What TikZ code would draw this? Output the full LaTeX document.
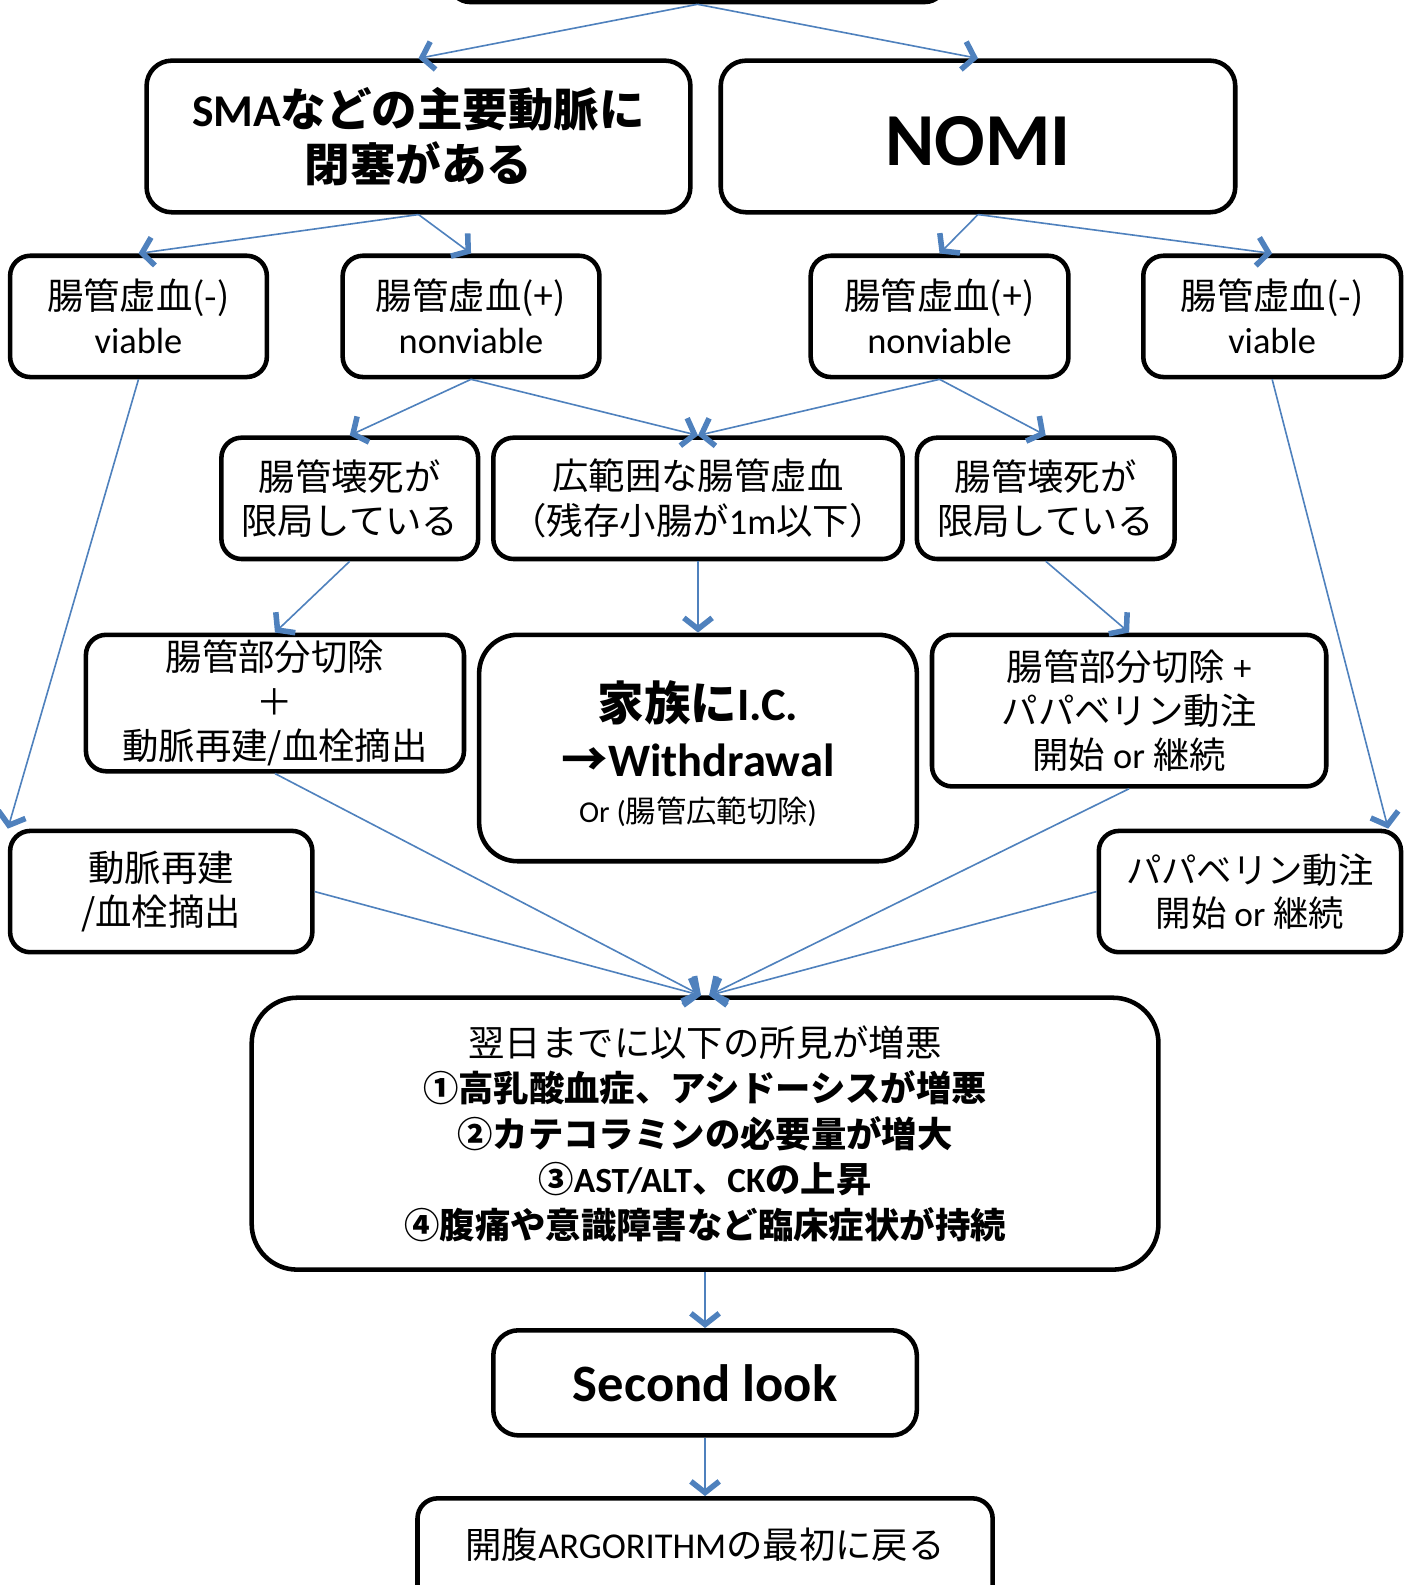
\documentclass[tikz,border=0pt]{standalone}
\usepackage{fontspec}
\setmainfont{Noto Sans CJK JP}
\newfontfamily\latf{Carlito}
\newcommand\la[1]{{\latf #1}}
\usetikzlibrary{arrows.meta,calc}
\definecolor{arrowblue}{RGB}{79,129,189}
\tikzset{
  box/.style={draw=black, line width=4.5pt, rounded corners=20pt, fill=white, align=center, inner sep=0pt},
  arr/.style={draw=arrowblue, line width=1.6pt, -{Straight Barb[length=11pt,width=28pt,line width=5.5pt 0 0]}},
  txt/.style={font=\fontsize{36}{44}\selectfont},
}
\begin{document}
\begin{tikzpicture}[x=1pt,y=-1pt]
\useasboundingbox (0,0) rectangle (1397,1568);
% nodes
\node[box, minimum width=490, minimum height=64] (top) at (690,-30) {};
\node[box, rounded corners=25pt, minimum width=538, minimum height=150, font=\bfseries\fontsize{45}{55}\selectfont] (sma) at (414,135) {\la{SMA}などの主要動脈に\\閉塞がある};
\node[box, rounded corners=25pt, minimum width=509, minimum height=150, text height=58pt, text depth=0pt, font=\bfseries\fontsize{74}{80}\selectfont] (nomi) at (967.5,135) {\la{NOMI}};
\node[box, txt, minimum width=254, minimum height=120] (a1) at (137,313) {腸管虚血(-)\\\la{viable}};
\node[box, txt, minimum width=254, minimum height=120] (a2) at (466,313) {腸管虚血(+)\\\la{nonviable}};
\node[box, txt, minimum width=255, minimum height=120] (b1) at (929.5,313) {腸管虚血(+)\\\la{nonviable}};
\node[box, txt, minimum width=255, minimum height=120] (b2) at (1258.5,313) {腸管虚血(-)\\\la{viable}};
\node[box, txt, minimum width=254, minimum height=120] (c1) at (346,493) {腸管壊死が\\限局している};
\node[box, txt, minimum width=405, minimum height=120] (c2) at (690.5,493) {広範囲な腸管虚血\\（残存小腸が\la{1m}以下）};
\node[box, txt, minimum width=255, minimum height=120] (c3) at (1034.5,493) {腸管壊死が\\限局している};
\node[box, txt, minimum width=374, minimum height=135] (d1) at (272,695.5) {腸管部分切除\\＋\\動脈再建/血栓摘出};
\node[box, rounded corners=38pt, minimum width=433, minimum height=224] (d2) at (690.5,740) {};
\node[align=center, inner sep=0pt, font=\fontsize{30}{50}\selectfont] (d2t) at (690.5,746)
  {{\bfseries\fontsize{46}{50}\selectfont 家族に\la{I.C.}}\\[5pt]{\bfseries\fontsize{46}{50}\selectfont →\la{Withdrawal}}\\[-4pt]\la{Or (}腸管広範切除\la{)}};
\node[box, txt, minimum width=390, minimum height=150] (d3) at (1117,703) {腸管部分切除 \la{+}\\パパベリン動注\\開始 \la{or} 継続};
\node[box, txt, minimum width=299, minimum height=120] (e1) at (159.5,882) {動脈再建\\/血栓摘出};
\node[box, minimum width=299, minimum height=120, font=\fontsize{35}{43}\selectfont] (e2) at (1236.5,882) {パパベリン動注\\開始 \la{or} 継続};
\node[box, rounded corners=45pt, minimum width=897, minimum height=269, font=\fontsize{36}{45}\selectfont] (f) at (697.5,1121.5)
  {翌日までに以下の所見が増悪\\{\bfseries\fontsize{35}{45}\selectfont ①高乳酸血症、アシドーシスが増悪}\\{\bfseries\fontsize{35}{45}\selectfont ②カテコラミンの必要量が増大}\\{\bfseries\fontsize{35}{45}\selectfont ③\la{AST/ALT}、\la{CK}の上昇}\\{\bfseries\fontsize{35}{45}\selectfont ④腹痛や意識障害など臨床症状が持続}};
\node[box, rounded corners=25pt, minimum width=419, minimum height=104, font=\bfseries\fontsize{52}{60}\selectfont] (sl) at (697.5,1368) {\la{Second look}};
\node[box, anchor=north, minimum width=569, text height=60pt, text depth=80pt, font=\fontsize{36}{44}\selectfont] (last) at (697.5,1480) {開腹\la{ARGORITHM}の最初に戻る};
% connectors
\draw[arr] (top.south) -- (sma.north);
\draw[arr] (top.south) -- (nomi.north);
\draw[arr] (sma.south) -- (a1.north);
\draw[arr] (sma.south) -- (a2.north);
\draw[arr] (nomi.south) -- (b1.north);
\draw[arr] (nomi.south) -- (b2.north);
\draw[arr] (a2.south) -- (c1.north);
\draw[arr] (a2.south) -- (c2.north);
\draw[arr] (b1.south) -- (c2.north);
\draw[arr] (b1.south) -- (c3.north);
\draw[arr] (c1.south) -- (d1.north);
\draw[arr] (c2.south) -- (d2.north);
\draw[arr] (c3.south) -- (d3.north);
\draw[arr] (a1.south) -- (e1.north west);
\draw[arr] (b2.south) -- ($(e2.north east)+(-15,0)$);
\coordinate (fl) at ($(f.north)+(-4,0)$);
\coordinate (fr) at ($(f.north)+(4,0)$);
\draw[arr] (d1.south) -- (fl);
\draw[arr] (e1.east) -- (fl);
\draw[arr] (d3.south) -- (fr);
\draw[arr] (e2.west) -- (fr);
\draw[arr] (f.south) -- (sl.north);
\draw[arr] (sl.south) -- (last.north);
\end{tikzpicture}
\end{document}
